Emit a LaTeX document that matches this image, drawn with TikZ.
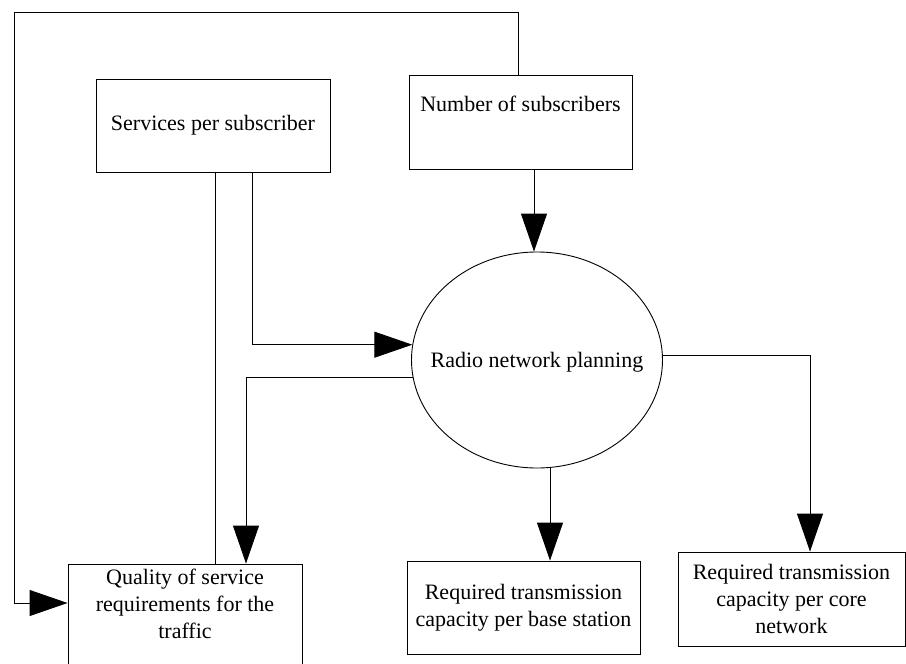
\documentclass[tikz,border=0pt]{standalone}
\usepackage{fontspec}
\setmainfont{Liberation Serif}
\usetikzlibrary{arrows.meta,shapes.geometric}
\begin{document}
\begin{tikzpicture}[x=1pt,y=-1pt,
  every node/.style={font=\fontsize{22}{27}\selectfont, inner sep=0pt},
  box/.style={draw, line width=0.9pt, rectangle, align=center},
  lbl/.style={align=center},
  wire/.style={line width=0.9pt},
  arr/.style={wire, -{Triangle[length=38pt,width=26pt]}},
]
\useasboundingbox (0,0) rectangle (906,664);
\clip (0,0) rectangle (906,664);

% inputs
\node[box, minimum width=234pt, minimum height=93pt] (serv) at (213,125.5) {Services per subscriber};
\node[box, minimum width=223pt, minimum height=94pt] (num) at (520.5,122) {};
\node[lbl] (numtxt) at ([yshift=-29pt]num.north) {Number of subscribers};

% planning step
\node[draw, ellipse, line width=0.9pt, minimum width=251pt, minimum height=216pt] (rad) at (537,360) {};
\node[lbl] (radtxt) at (537,362) {Radio network planning};

% outputs
\node[box, minimum width=234pt, minimum height=106pt] (qos) at (185,617) {};
\node[lbl, anchor=north] (qostxt) at ([yshift=-5pt]qos.north) {Quality of service\\requirements for the\\traffic};
\node[box, minimum width=233pt, minimum height=93pt] (base) at (523.5,607.5) {Required transmission\\capacity per base station};
\node[box, minimum width=227pt, minimum height=94pt] (core) at (791.5,599) {Required transmission\\capacity per core\\network};

% feedback loop round the top and left edge
\coordinate (loopTL) at (14,12);
\draw[arr] ([xshift=-2.5pt]num.north) |- (loopTL) |- ([yshift=14pt]qos.west);

% services per subscriber
\draw[wire] ([xshift=2pt]serv.south) -- ([xshift=2pt]serv.south |- qos.north);
\draw[arr] ([xshift=39pt]serv.south) |- (rad.173.6);

% number of subscribers
\draw[arr] ([xshift=13.5pt]num.south) -- ([xshift=13.5pt]num.south |- rad.north);

% planning results
\draw[arr] (rad.188.7) -| ([xshift=61pt]qos.north);
\draw[arr] ([xshift=26.5pt]base.north |- rad.south) -- ([xshift=26.5pt]base.north);
\draw[arr] (rad.2.7) -| ([xshift=18.5pt]core.north);
\end{tikzpicture}
\end{document}
